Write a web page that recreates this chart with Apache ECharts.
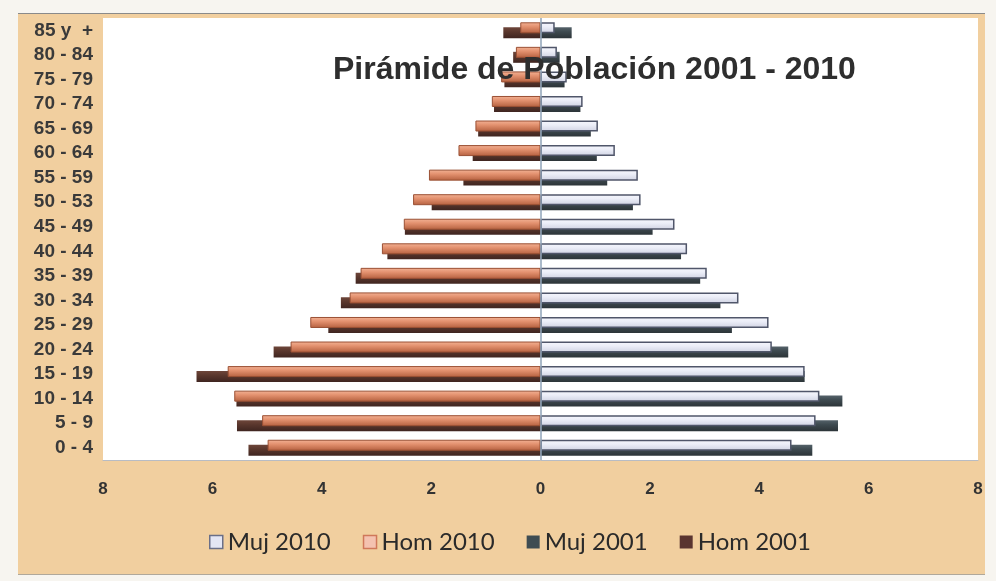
<!DOCTYPE html>
<html>
<head>
<meta charset="utf-8">
<script src="https://cdn.jsdelivr.net/npm/echarts@6/dist/echarts.min.js"></script>
<style>
  html, body { margin: 0; padding: 0; background: #f7f5f0; }
  #panel {
    position: absolute; left: 18px; top: 13px; width: 967px; height: 560px;
    background: #f1cf9f; border-top: 1px solid #8a8a8a; border-bottom: 1px solid #b0a89a;
  }
  #chart { position: absolute; left: 0; top: 0; width: 996px; height: 581px; }
</style>
</head>
<body>
<div id="panel"></div>
<div id="chart"></div>
<script>
// grupos de edad, de abajo hacia arriba
const ages = ['0 - 4', '5 - 9', '10 - 14', '15 - 19', '20 - 24', '25 - 29', '30 - 34', '35 - 39',
  '40 - 44', '45 - 49', '50 - 53', '55 - 59', '60 - 64', '65 - 69', '70 - 74', '75 - 79', '80 - 84', '85 y  +'];

const muj2010 = [4.59, 5.03, 5.10, 4.83, 4.23, 4.17, 3.62, 3.04, 2.68, 2.45, 1.83, 1.78, 1.36, 1.05, 0.77, 0.48, 0.30, 0.26];
const hom2010 = [4.99, 5.09, 5.60, 5.72, 4.57, 4.21, 3.49, 3.29, 2.90, 2.50, 2.33, 2.04, 1.50, 1.19, 0.89, 0.72, 0.45, 0.37];
const muj2001 = [4.97, 5.44, 5.52, 4.83, 4.53, 3.50, 3.29, 2.92, 2.57, 2.05, 1.69, 1.22, 1.03, 0.92, 0.73, 0.44, 0.35, 0.57];
const hom2001 = [5.34, 5.55, 5.56, 6.29, 4.88, 3.88, 3.65, 3.38, 2.80, 2.48, 1.99, 1.41, 1.24, 1.14, 0.85, 0.66, 0.50, 0.68];

const xTicks = { min: -8, max: 8, step: 2 };

const grad = (a, b, c) => ({
  type: 'linear', x: 0, y: 0, x2: 0, y2: 1,
  colorStops: [{ offset: 0, color: a }, { offset: 0.4, color: b }, { offset: 1, color: c }]
});

const chart = echarts.init(document.getElementById('chart'));

const option = {
  animation: false,
  title: {
    text: 'Pirámide de Población 2001 - 2010',
    left: 328,
    top: 49,
    textStyle: { fontFamily: 'Liberation Sans', fontSize: 32, fontWeight: 'bold', color: '#2e2e2e' }
  },
  legend: {
    top: 525,
    left: 204,
    itemWidth: 13,
    itemHeight: 13,
    itemGap: 32,
    textStyle: { fontFamily: 'Lato', fontSize: 24, color: '#2a2a2a' },
    data: [
      { name: 'Muj 2010', icon: 'rect', itemStyle: { color: '#e4e6f4', borderColor: '#6a6f88', borderWidth: 1.5 } },
      { name: 'Hom 2010', icon: 'rect', itemStyle: { color: '#f4c2b0', borderColor: '#d0785a', borderWidth: 1.5 } },
      { name: 'Muj 2001', icon: 'rect', itemStyle: { color: '#3e4c52' } },
      { name: 'Hom 2001', icon: 'rect', itemStyle: { color: '#5a3530' } }
    ]
  },
  grid: {
    left: 103, right: 18, top: 18, bottom: 121,
    show: true, backgroundColor: '#ffffff', borderWidth: 0
  },
  xAxis: {
    type: 'value',
    min: xTicks.min, max: xTicks.max, interval: xTicks.step,
    axisLine: { show: true, lineStyle: { color: '#b8bcc4' } },
    axisTick: { show: false },
    splitLine: { show: false },
    axisLabel: {
      margin: 21,
      fontFamily: 'Liberation Sans', fontSize: 17, fontWeight: 'bold', color: '#333',
      formatter: v => Math.abs(v)
    }
  },
  yAxis: {
    type: 'category',
    data: ages,
    axisLine: { show: false, onZero: false },
    axisTick: { show: false },
    axisLabel: {
      interval: 0,
      margin: 10,
      padding: [0, 0, 10, 0],
      fontFamily: 'Liberation Sans', fontSize: 19, fontWeight: 'bold', color: '#3a3a3a'
    }
  },
  series: [
    {
      name: 'Muj 2010', type: 'bar', stack: 'a', z: 4,
      barWidth: 11, barGap: '-55%',
      itemStyle: { color: grad('#f6f7fd', '#eceef8', '#cfd2e2'), borderColor: '#50566a', borderWidth: 1.5 },
      data: muj2010,
      markLine: {
        silent: true, symbol: 'none', label: { show: false },
        lineStyle: { color: '#8fa3b8', width: 1.5, type: 'solid' },
        data: [{ xAxis: 0 }]
      }
    },
    {
      name: 'Hom 2010', type: 'bar', stack: 'a', z: 4,
      barWidth: 11, barGap: '-55%',
      itemStyle: { color: grad('#f3b396', '#e3916f', '#b4603f'), borderColor: '#9a5034', borderWidth: 1 },
      data: hom2010.map(v => -v)
    },
    {
      name: 'Muj 2001', type: 'bar', stack: 'b', z: 2,
      barWidth: 11, barGap: '-55%',
      itemStyle: { color: grad('#55626a', '#3e4a50', '#2c3438') },
      data: muj2001
    },
    {
      name: 'Hom 2001', type: 'bar', stack: 'b', z: 2,
      barWidth: 11, barGap: '-55%',
      itemStyle: { color: grad('#6e463a', '#5a372d', '#3f2520') },
      data: hom2001.map(v => -v)
    }
  ]
};

chart.setOption(option);
</script>
</body>
</html>
